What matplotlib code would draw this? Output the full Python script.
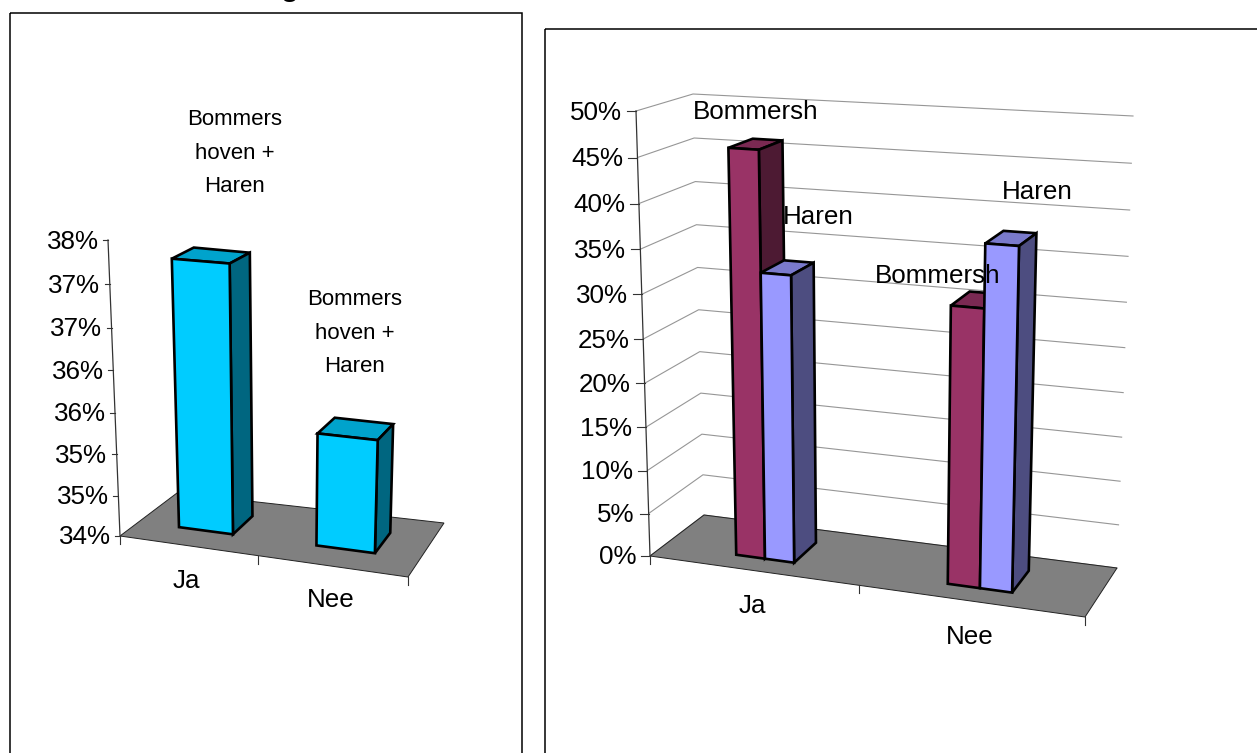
import matplotlib
matplotlib.use("Agg")
import matplotlib.pyplot as plt
from matplotlib.patches import Polygon, Rectangle

plt.rcParams["font.family"] = ["Liberation Sans", "DejaVu Sans"]

categories = ["Ja", "Nee"]

# linker grafiek
left_ticks = [34, 34.5, 35, 35.5, 36, 36.5, 37, 37.5]
left_tick_labels = ["34%", "35%", "35%", "36%", "36%", "37%", "37%", "38%"]
left_values = [37.22, 35.35]

# rechter grafiek
right_ticks = [0, 5, 10, 15, 20, 25, 30, 35, 40, 45, 50]
right_tick_labels = ["0%", "5%", "10%", "15%", "20%", "25%", "30%", "35%", "40%", "45%", "50%"]
bommershoven = [46.0, 30.8]
haren = [32.6, 37.7]

FS = 18.7  # 26 px bij dpi 100

# hoekpunten van de 3D doos in pixels: onder/boven, voor/achter, links/rechts
LEFT_BOX = {
    "bfl": (120, 536), "bfr": (408, 577), "bbl": (177, 493), "bbr": (444, 523),
    "tfl": (108, 240), "tfr": (419, 262), "tbl": (168, 212), "tbr": (455, 240),
}
RIGHT_BOX = {
    "bfl": (650, 556), "bfr": (1085, 617), "bbl": (704, 515), "bbr": (1117, 568),
    "tfl": (636, 111), "tfr": (1099, 138), "tbl": (693, 94), "tbr": (1133, 116),
}


def project(box, u, w, t):
    # perspectief benaderen met trilineaire interpolatie
    t = t - 0.05 * t * (1 - t)
    res = []
    for i in range(2):
        bf = box["bfl"][i] * (1 - u) + box["bfr"][i] * u
        bb = box["bbl"][i] * (1 - u) + box["bbr"][i] * u
        tf = box["tfl"][i] * (1 - u) + box["tfr"][i] * u
        tb = box["tbl"][i] * (1 - u) + box["tbr"][i] * u
        low = bf * (1 - w) + bb * w
        high = tf * (1 - w) + tb * w
        res.append(low * (1 - t) + high * t)
    return res


def draw_bar(ax, box, u0, u1, w0, w1, t, colors):
    front, side, top = colors
    p = lambda u, w, h: project(box, u, w, h)
    faces = [
        ([p(u0, w0, t), p(u1, w0, t), p(u1, w1, t), p(u0, w1, t)], top),
        ([p(u1, w0, 0), p(u1, w1, 0), p(u1, w1, t), p(u1, w0, t)], side),
        ([p(u0, w0, 0), p(u1, w0, 0), p(u1, w0, t), p(u0, w0, t)], front),
    ]
    for pts, col in faces:
        ax.add_patch(Polygon(pts, closed=True, facecolor=col, edgecolor="black",
                             linewidth=1.9, joinstyle="miter", zorder=4))


def draw_frame(ax, box, ticks, labels, tick_len, gap, cat_us, grid):
    vmin, vmax = ticks[0], ticks[-1]
    floor = [project(box, 0, 0, 0), project(box, 1, 0, 0), project(box, 1, 1, 0), project(box, 0, 1, 0)]
    ax.add_patch(Polygon(floor, closed=True, facecolor="#808080", edgecolor="#222222",
                         linewidth=0.7, zorder=2))
    for val, lab in zip(ticks, labels):
        t = (val - vmin) / (vmax - vmin)
        x, y = project(box, 0, 0, t)
        if grid:
            xb, yb = project(box, 0, 1, t)
            xr, yr = project(box, 1, 1, t)
            ax.plot([x, xb, xr], [y, yb, yr], color="#969696", lw=0.8, zorder=1)
        ax.plot([x - tick_len, x], [y, y], color="#333333", lw=0.8, zorder=3)
        ax.text(x - gap, y + 1.5, lab, ha="right", va="center", fontsize=FS, color="black", zorder=6)
    x0, y0 = project(box, 0, 0, 0)
    x1, y1 = project(box, 0, 0, 1)
    ax.plot([x0, x1], [y0, y1], color="#333333", lw=0.9, zorder=3)
    for u in cat_us:
        x, y = project(box, u, 0, 0)
        ax.plot([x, x], [y, y + 8], color="#333333", lw=0.8, zorder=3)


def main():
    fig = plt.figure(figsize=(12.57, 7.53), dpi=100)
    ax = fig.add_axes([0, 0, 1, 1])
    ax.set_xlim(0, 1257)
    ax.set_ylim(753, 0)
    ax.axis("off")

    # kaders lopen door tot buiten het beeld
    ax.add_patch(Rectangle((10, 13), 512, 800, fill=False, edgecolor="black", lw=1.1))
    ax.add_patch(Rectangle((545, 29), 800, 800, fill=False, edgecolor="black", lw=1.1))
    ax.text(290, -4, "g", fontsize=21, fontweight="bold", ha="center", va="baseline", clip_on=False)

    # links
    draw_frame(ax, LEFT_BOX, left_ticks, left_tick_labels, 5, 9.5, [0, 0.48, 1], False)
    left_u = [(0.143, 0.335), (0.632, 0.84)]
    left_cols = ("#00ccff", "#006680", "#00a3cc")
    for (u0, u1), val in zip(left_u, left_values):
        t = (val - left_ticks[0]) / (left_ticks[-1] - left_ticks[0])
        draw_bar(ax, LEFT_BOX, u0, u1, 0.33, 0.72, t, left_cols)
    for (x, y) in [(235, 153), (355, 333)]:
        ax.text(x, y, "Bommers\nhoven +\nHaren", fontsize=16, ha="center", va="center",
                linespacing=1.78, zorder=6)
    for name, (x, y) in zip(categories, [(186, 581), (331, 600)]):
        ax.text(x, y, name, fontsize=FS, ha="center", va="center", zorder=6)

    # rechts
    draw_frame(ax, RIGHT_BOX, right_ticks, right_tick_labels, 9, 14, [0, 0.48, 1], True)
    b_cols = ("#993366", "#4d1a33", "#7a2952")
    h_cols = ("#9999ff", "#4d4d80", "#7a7acc")
    groups = [(0.167, 0.234, 0.302), (0.66, 0.735, 0.81)]
    for (u0, um, u1), vb, vh in zip(groups, bommershoven, haren):
        draw_bar(ax, RIGHT_BOX, u0, um, 0.27, 0.73, vb / right_ticks[-1], b_cols)
        draw_bar(ax, RIGHT_BOX, um, u1, 0.27, 0.73, vh / right_ticks[-1], h_cols)
    for (x, y, s) in [(756, 112, "Bommersh"), (818, 217, "Haren"),
                      (938, 276, "Bommersh"), (1037, 192, "Haren")]:
        ax.text(x, y, s, fontsize=FS, ha="center", va="center", zorder=6)
    for name, (x, y) in zip(categories, [(752, 606), (970, 637)]):
        ax.text(x, y, name, fontsize=FS, ha="center", va="center", zorder=6)

    fig.savefig("out.png", dpi=100)


if __name__ == "__main__":
    main()
